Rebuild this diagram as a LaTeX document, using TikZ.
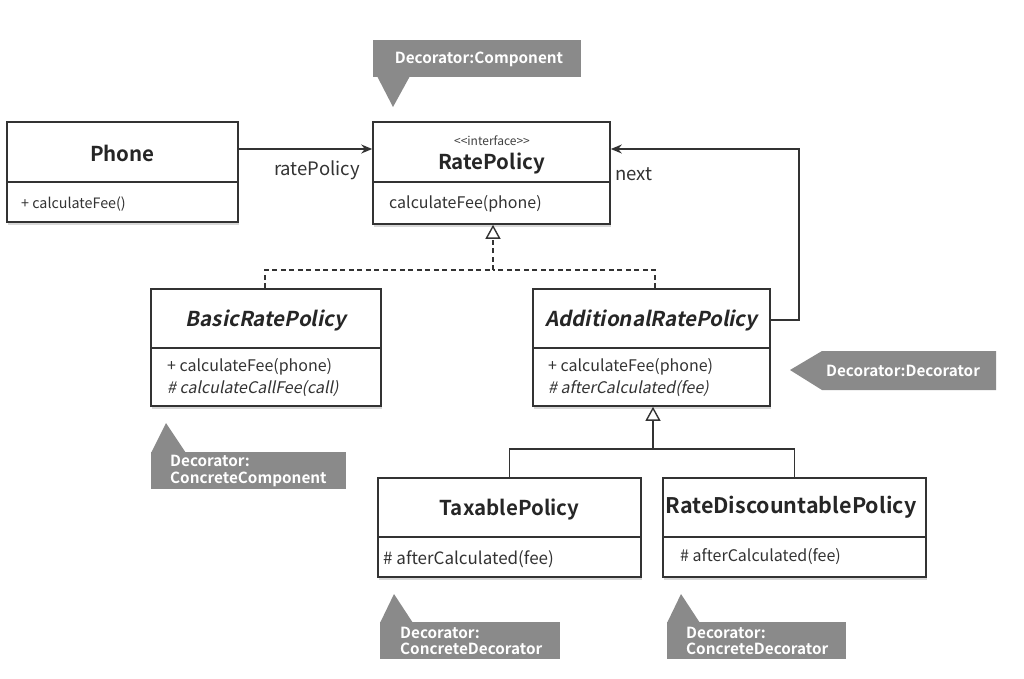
\documentclass[tikz,border=0pt]{standalone}
\usepackage{fontspec}
\setmainfont{Noto Sans CJK KR}[BoldFont={Noto Sans CJK KR Bold}, ItalicFont={Noto Sans CJK KR}, ItalicFeatures={FakeSlant=0.2}, BoldItalicFont={Noto Sans CJK KR Bold}, BoldItalicFeatures={FakeSlant=0.2}]
\usetikzlibrary{arrows.meta,shadows}
\definecolor{lnc}{HTML}{333333}
\definecolor{cgray}{HTML}{8A8A8A}
\begin{document}
\begin{tikzpicture}[x=1pt,y=-1pt,
  cls/.style={draw=lnc, line width=1.6pt, fill=white, inner sep=0pt,
    drop shadow={shadow xshift=1pt,shadow yshift=-2.5pt,opacity=0.3}},
  divider/.style={draw=lnc, line width=1.6pt},
  ttl/.style={font=\fontsize{20.5}{24}\selectfont\bfseries, text=black!85, inner sep=0pt},
  ittl/.style={font=\fontsize{20.5}{24}\selectfont\bfseries\itshape, text=black!85, inner sep=0pt},
  stereo/.style={font=\fontsize{12}{14}\selectfont, text=black!75, inner sep=0pt},
  meth/.style={font=\fontsize{16}{19}\selectfont, text=black!80, inner sep=0pt, anchor=west},
  lbl/.style={font=\fontsize{18.5}{21}\selectfont, text=black!80, inner sep=0pt},
  assoc/.style={draw=lnc, line width=1.4pt, -{Stealth[length=11pt,width=9pt]}},
  real/.style={draw=lnc, line width=1.4pt, dash pattern=on 5pt off 3.5pt},
  gen/.style={draw=lnc, line width=1.4pt},
  hollow/.style={-{Triangle[open,length=14pt,width=15pt,line width=1.4pt,fill=white]}},
  callout/.style={fill=cgray},
  ctext/.style={font=\fontsize{15.3}{16.5}\selectfont\bfseries, text=white, inner sep=0pt, align=left},
]
\useasboundingbox[fill=white] (0,0) rectangle (1024,678);

% ---------- classes ----------
\node[cls, minimum width=231pt, minimum height=100pt] (phone) at (122.5,172) {};
\draw[divider] (phone.west |- 0,182) -- (phone.east |- 0,182);
\node[ttl] (phoneT) at (122.5,153) {Phone};
\node[meth, font=\fontsize{14.3}{17}\selectfont] (phoneM) at (21,204) {+ calculateFee()};

\node[cls, minimum width=237pt, minimum height=102pt] (rate) at (491.5,173) {};
\draw[divider] (rate.west |- 0,182) -- (rate.east |- 0,182);
\node[stereo] (rateS) at (492,141) {{<}{<}interface{>}{>}};
\node[ttl] (rateT) at (491.5,163) {RatePolicy};
\node[meth] (rateM) at (389,204) {calculateFee(phone)};

\node[cls, minimum width=230pt, minimum height=117pt] (basic) at (266,347.5) {};
\draw[divider] (basic.west |- 0,348) -- (basic.east |- 0,348);
\node[ittl] (basicT) at (266,320) {BasicRatePolicy};
\node[meth] (basicM1) at (167,367) {+ calculateFee(phone)};
\node[meth] (basicM2) at (167,389) {\itshape \# calculateCallFee(call)};

\node[cls, minimum width=237pt, minimum height=117pt] (add) at (651.5,347.5) {};
\draw[divider] (add.west |- 0,348) -- (add.east |- 0,348);
\node[ittl] (addT) at (651.5,320) {AdditionalRatePolicy};
\node[meth] (addM1) at (548,367) {+ calculateFee(phone)};
\node[meth] (addM2) at (548,389) {\itshape \# afterCalculated(fee)};

\node[cls, minimum width=263pt, minimum height=99pt] (tax) at (509.5,527.5) {};
\draw[divider] (tax.west |- 0,537) -- (tax.east |- 0,537);
\node[ttl] (taxT) at (509.5,509) {TaxablePolicy};
\node[meth, font=\fontsize{17}{20}\selectfont] (taxM) at (383,559) {\# afterCalculated(fee)};

\node[cls, minimum width=263pt, minimum height=99pt] (disc) at (794.5,527.5) {};
\draw[divider] (disc.west |- 0,537) -- (disc.east |- 0,537);
\node[ttl, font=\fontsize{21.5}{24}\selectfont\bfseries] (discT) at (791,507) {RateDiscountablePolicy};
\node[meth] (discM) at (680,557) {\# afterCalculated(fee)};

% ---------- connectors ----------
\draw[assoc] (phone.east |- 0,149) -- (rate.west |- 0,149);
\node[lbl] (ratePolicyL) at (317,170) {ratePolicy};

\coordinate (nextc) at (799,149);
\draw[assoc] (add.east |- 0,320) -| (nextc) -- (rate.east |- nextc);
\node[lbl] (nextL) at (634,174) {next};

\coordinate (realj) at (493,270);
\draw[real] (basic.north -| 265,0) |- (realj);
\draw[real] (add.north -| 655,0) |- (realj);
\draw[real, hollow] (realj) -- (rate.south -| realj);

\coordinate (genj) at (653,449);
\draw[gen] (tax.north) |- (genj);
\draw[gen] (disc.north) |- (genj);
\draw[gen, hollow] (genj) -- (add.south -| genj);

% ---------- pattern callouts ----------
\fill[callout] (373,40) rectangle (581,77);
\fill[callout] (377,76) -- (410,76) -- (393,107) -- cycle;
\node[ctext] (compC) at (479,59) {Decorator:Component};

\fill[callout] (790,370) -- (822,351) -- (996,351) -- (996,390) -- (822,390) -- cycle;
\node[ctext] (decC) at (903,371) {Decorator:Decorator};

\fill[callout] (151,452) rectangle (346,489);
\fill[callout] (151,453) -- (186,453) -- (166,423) -- cycle;
\node[ctext, anchor=west] (ccC) at (170,471) {Decorator:\\ConcreteComponent};

\fill[callout] (380,622) rectangle (560,659);
\fill[callout] (380,623) -- (413,623) -- (394,594) -- cycle;
\node[ctext, anchor=west] (cd1C) at (400,641) {Decorator:\\ConcreteDecorator};

\fill[callout] (667,622) rectangle (846,659);
\fill[callout] (667,623) -- (700,623) -- (681,594) -- cycle;
\node[ctext, anchor=west] (cd2C) at (686,641) {Decorator:\\ConcreteDecorator};
\end{tikzpicture}
\end{document}
